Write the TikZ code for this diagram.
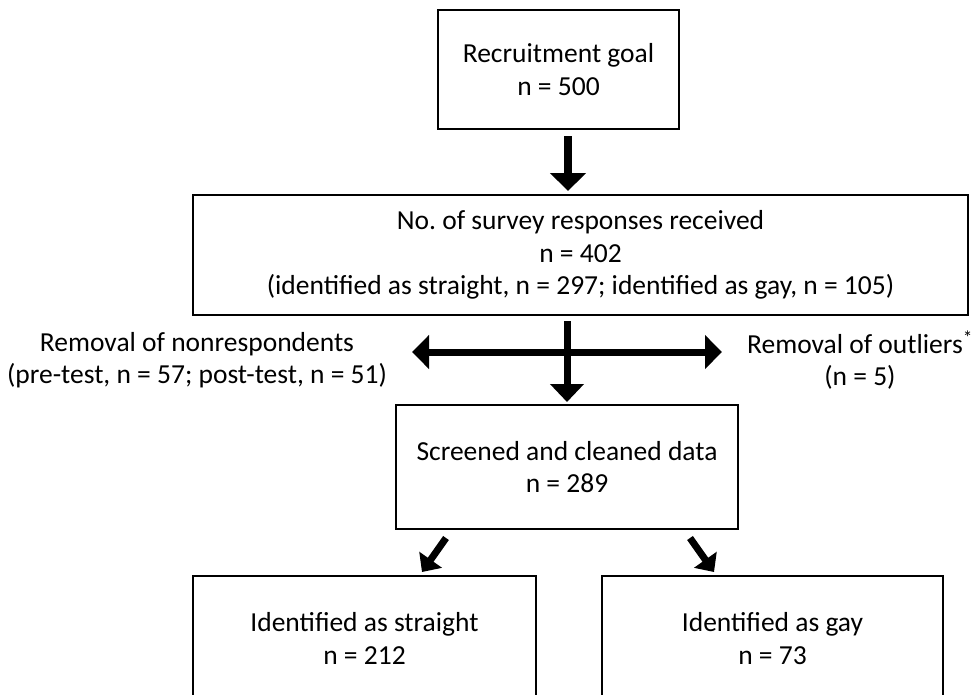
\documentclass[tikz,border=0pt]{standalone}
\usepackage{fontspec}
\setmainfont{Carlito}
\usetikzlibrary{arrows.meta}
\frenchspacing
\begin{document}
\begin{tikzpicture}[x=1pt,y=-1pt,
  box/.style={draw=black, line width=2pt, align=center, inner sep=0pt,
    font=\fontsize{27.5}{32.5}\selectfont},
  lbl/.style={align=center, inner sep=0pt, font=\fontsize{27.5}{32.5}\selectfont},
  bigarrow/.style={line width=8pt, -{Triangle[length=18pt,width=35pt]}},
  crossarrow/.style={line width=7pt, {Triangle[length=17pt,width=33pt]}-{Triangle[length=17pt,width=33pt]}},
  diagarrow/.style={line width=7pt, -{Triangle[length=15pt,width=27pt]}}
]
\useasboundingbox (0,0) rectangle (972,694);
\fill[white] (0,0) rectangle (972,694);

\node[box, minimum width=241pt, minimum height=119pt] (goal) at (558.5,69.5)
  {Recruitment goal\\n = 500};
\node[box, minimum width=775pt, minimum height=120pt] (resp) at (580.5,255)
  {No.\ of survey responses received\\n = 402\\(identified as straight, n = 297; identified as gay, n = 105)};
\node[box, minimum width=342pt, minimum height=124pt] (clean) at (567,467)
  {Screened and cleaned data\\n = 289};
\node[box, minimum width=343pt, minimum height=125pt] (straight) at (364.5,638.5)
  {Identified as straight\\n = 212};
\node[box, minimum width=341pt, minimum height=125pt] (gay) at (772.5,638.5)
  {Identified as gay\\n = 73};

\node[lbl] (nonresp) at (197,360)
  {Removal of nonrespondents\\(pre-test, n = 57; post-test, n = 51)};
\node[lbl] (outl) at (860,360)
  {Removal of outliers\textsuperscript{*}\\(n = 5)};

\coordinate (hl) at (412,352);
\coordinate (hr) at (722,352);

\draw[bigarrow] ([xshift=9.5pt,yshift=-6pt]goal.south) -- ([xshift=-12.5pt,yshift=3pt]resp.north);
\draw[crossarrow] (hl) -- (hr);
\draw[line width=7pt, -{Triangle[length=18pt,width=33pt]}] ([xshift=-13.5pt,yshift=-5pt]resp.south) -- ([yshift=2pt]clean.north);
\draw[diagarrow] ([xshift=-121pt,yshift=-8pt]clean.south) -- ([xshift=57.5pt,yshift=3pt]straight.north);
\draw[diagarrow] ([xshift=123pt,yshift=-8pt]clean.south) -- ([xshift=-58.5pt,yshift=3pt]gay.north);
\end{tikzpicture}
\end{document}
